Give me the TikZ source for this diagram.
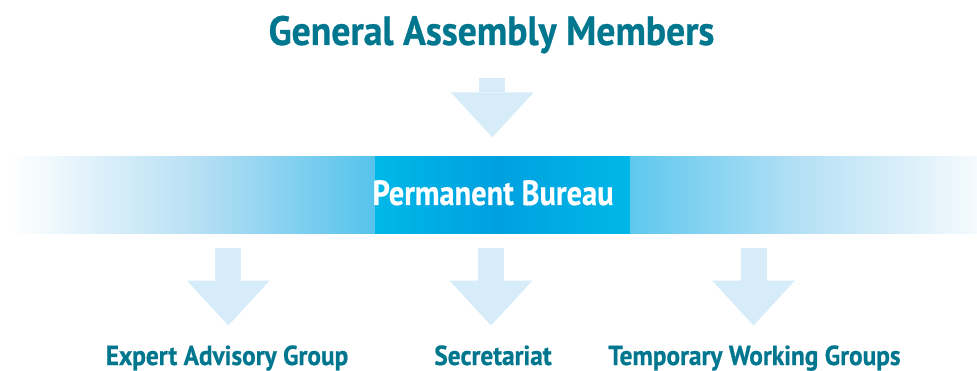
\documentclass[tikz,border=0pt]{standalone}
\usepackage{fontspec}
\newfontfamily\labelfont{PT Sans Bold}[FakeStretch=0.92, FakeBold=0.6]
\newfontfamily\bureaufont{PT Sans Bold}[FakeStretch=0.87, FakeBold=0.4]
\usetikzlibrary{arrows.meta}

\definecolor{teal}{HTML}{00768F}
\definecolor{arrowblue}{HTML}{D6ECF9}
\definecolor{bandA}{HTML}{B5DFF4}
\definecolor{bandB}{HTML}{55C3EC}
\definecolor{bandC}{HTML}{00B8E8}
\definecolor{bandD}{HTML}{00A0DF}
\definecolor{bandE}{HTML}{5EC8EE}
\definecolor{bandF}{HTML}{B5E0F5}
\definecolor{bandG}{HTML}{F5FAFD}

\begin{document}
\begin{tikzpicture}[x=1pt, y=1pt,
    heading/.style={anchor=base, text=teal, font=\labelfont\fontsize{41}{43}\selectfont, inner sep=0pt},
    unit/.style={anchor=base, text=teal, font=\labelfont\fontsize{27.5}{29}\selectfont, inner sep=0pt},
    bureau/.style={anchor=base, text=white, font=\bureaufont\fontsize{35}{37}\selectfont, inner sep=0pt},
    blockarrow/.style={draw=arrowblue, line width=26pt, -{Triangle[width=83pt, length=45pt, line width=0pt]}}]
    \useasboundingbox (0,0) rectangle (977,370);

    % Band behind the bureau
    \foreach \xa/\xb/\ca/\cb in {10/200/white/bandA, 200/375/bandA/bandB, 375/497/bandC/bandD,
                                 497/630/bandD/bandC, 630/800/bandE/bandF, 800/977/bandF/bandG}
        \shade[left color=\ca, right color=\cb] (\xa,136.7) rectangle (\xb+0.5,213.3);

    % Nodes
    \node [heading] (members)   at (491.5,325) {General Assembly Members};
    \node [bureau]  (bureau)    at (493,165)   {Permanent Bureau};
    \node [unit]    (expert)    at (227,5)     {Expert Advisory Group};
    \node [unit]    (secretary) at (493,5)     {Secretariat};
    \node [unit]    (temporary) at (754.5,5)   {Temporary Working Groups};

    % Arrow ends
    \coordinate (membersTail)   at (492.3,292);
    \coordinate (membersTip)    at (492.3,232.7);
    \coordinate (expertTail)    at (228.3,121.7);
    \coordinate (expertTip)     at (228.3,44.5);
    \coordinate (secretaryTail) at (491,121.7);
    \coordinate (secretaryTip)  at (491,44.5);
    \coordinate (temporaryTail) at (753.5,121.7);
    \coordinate (temporaryTip)  at (753.5,44.5);

    % Paths
    \draw [blockarrow] (membersTail)   -- (membersTip);
    \draw [blockarrow] (expertTail)    -- (expertTip);
    \draw [blockarrow] (secretaryTail) -- (secretaryTip);
    \draw [blockarrow] (temporaryTail) -- (temporaryTip);

\end{tikzpicture}
\end{document}
